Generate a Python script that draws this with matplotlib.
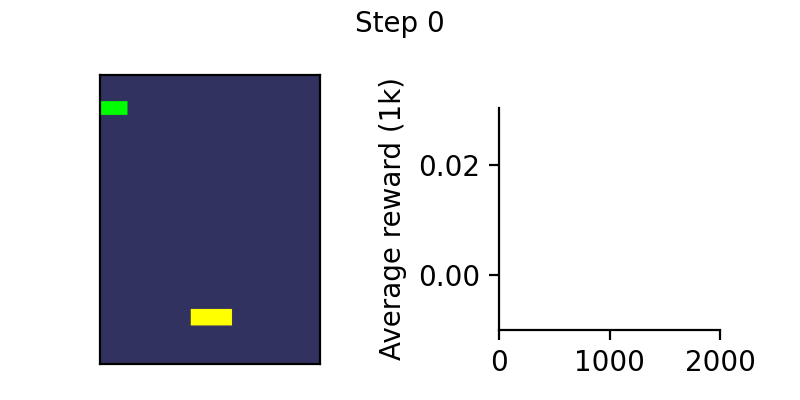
import matplotlib.pyplot as plt
import numpy as np

# game frame (210 x 160 atari screen)
frame_shape = (210, 160)
background = [50, 50, 96]
paddle_rows = (19, 29)
paddle_cols = (0, 20)
paddle_color = [0, 255, 0]
ball_rows = (170, 182)
ball_cols = (66, 96)
ball_color = [255, 255, 0]

# reward curve (nothing yet at step 0)
steps = []
avg_reward = []
step = 0


def makeFrame():
	img = np.zeros(frame_shape + (3,), dtype=np.uint8)
	img[:, :] = background
	img[paddle_rows[0]:paddle_rows[1], paddle_cols[0]:paddle_cols[1]] = paddle_color
	img[ball_rows[0]:ball_rows[1], ball_cols[0]:ball_cols[1]] = ball_color
	return img


def main():
	fig = plt.figure(figsize=(4, 2), dpi=200)
	fig.suptitle("Step %d" % step, fontsize=10, y=0.975)

	ax1 = fig.add_axes([0.125, 0.09, 0.275, 0.7225])
	ax1.imshow(makeFrame(), interpolation='antialiased')
	ax1.set_xticks([])
	ax1.set_yticks([])

	ax2 = fig.add_axes([0.624, 0.175, 0.276, 0.555])
	ax2.plot(steps, avg_reward)
	ax2.set_xlim(0, 2000)
	ax2.set_ylim(-0.01, 0.0304)
	ax2.set_xticks([0, 1000, 2000])
	ax2.set_yticks([0.0, 0.02])
	ax2.set_ylabel("Average reward (1k)")
	ax2.spines['top'].set_visible(False)
	ax2.spines['right'].set_visible(False)

	fig.savefig("out.png")


if __name__ == "__main__":
	main()
